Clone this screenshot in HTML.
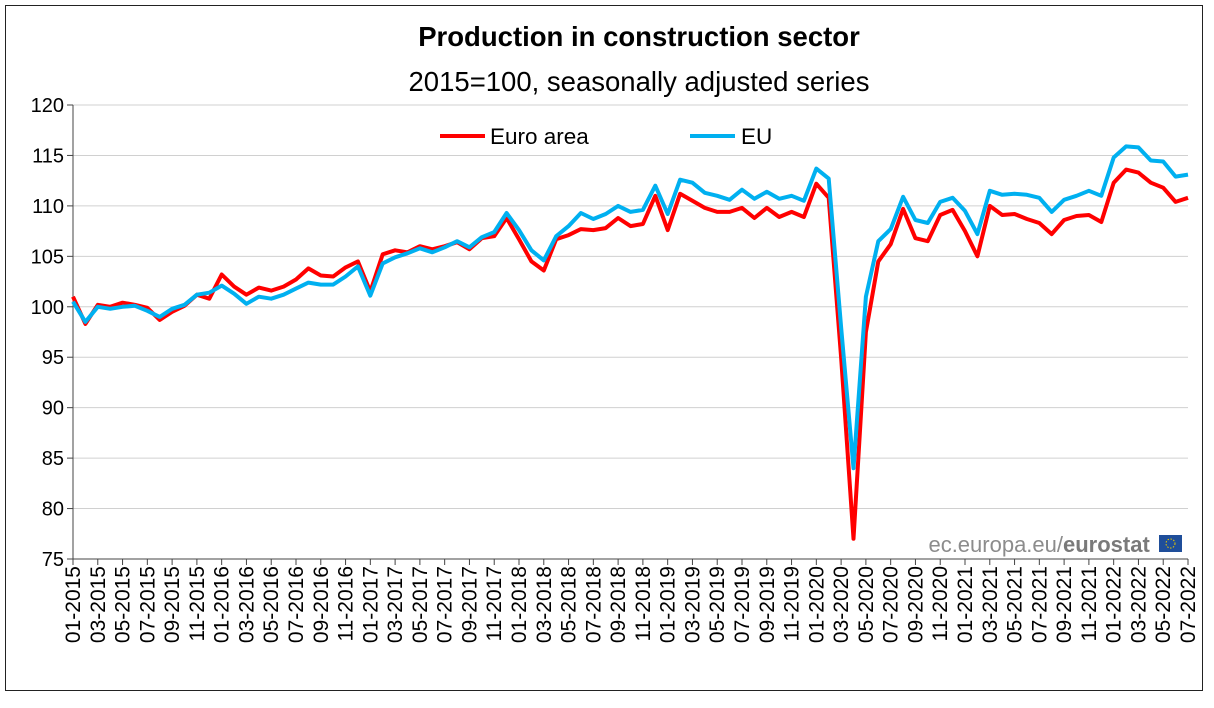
<!DOCTYPE html>
<html><head><meta charset="utf-8"><style>
html,body{margin:0;padding:0;background:#fff;}
body{width:1214px;height:703px;overflow:hidden;font-family:"Liberation Sans",Arial,sans-serif;}
</style></head><body>
<svg id="c" width="1214" height="703" xmlns="http://www.w3.org/2000/svg" font-family="Liberation Sans, Arial, sans-serif">
<rect x="5.5" y="5.5" width="1197" height="685" fill="#fff" stroke="#222" stroke-width="1"/>
<text x="639" y="46" text-anchor="middle" font-size="27.5" font-weight="bold">Production in construction sector</text>
<text x="639" y="91" text-anchor="middle" font-size="27.5">2015=100, seasonally adjusted series</text>
<g id="grid"></g>
<g id="xl"></g>
<line x1="440" y1="136" x2="485" y2="136" stroke="#ff0000" stroke-width="4"/>
<text x="490" y="144" font-size="22.5">Euro area</text>
<line x1="690" y1="136" x2="735" y2="136" stroke="#00b0f0" stroke-width="4"/>
<text x="741" y="144" font-size="22.5">EU</text>
<text x="1063" y="552" text-anchor="end" font-size="22" fill="#8c8c8c">ec.europa.eu/</text>
<text x="1063" y="552" font-size="22" fill="#7a7a7a" font-weight="bold">eurostat</text>
<rect x="1159" y="535" width="23" height="17" fill="#1f4e9a"/>
<circle cx="1170.5" cy="543.5" r="4.5" fill="none" stroke="#e6c700" stroke-width="1" stroke-dasharray="1.5 1.5"/>
<g id="ser"></g>
</svg>
<script>
var X0=73,DX=(1188-73)/90;
function Y(v){return 105+(120-v)*(559-105)/45;}
var g=document.getElementById('grid'),s='';
for(var v=75;v<=120;v+=5){var y=Y(v);
 if(v>75)s+='<line x1="73" x2="1188" y1="'+y+'" y2="'+y+'" stroke="#d0d0d0" stroke-width="1"/>';
 s+='<line x1="67" x2="73" y1="'+y+'" y2="'+y+'" stroke="#444"/>';
 s+='<text x="64" y="'+(y+7)+'" text-anchor="end" font-size="20">'+v+'</text>';}
s+='<line x1="73" x2="73" y1="105" y2="559" stroke="#444"/>';
s+='<line x1="73" x2="1188" y1="559" y2="559" stroke="#444"/>';
g.innerHTML=s;
var xl='';
for(var i=0;i<=90;i+=2){var x=X0+DX*i;var m=(i%12)+1,yr=2015+Math.floor(i/12);
 xl+='<line x1="'+x+'" x2="'+x+'" y1="559" y2="565" stroke="#444"/>';
 var lab=(m<10?'0':'')+m+'-'+yr;
 xl+='<text transform="translate('+(x+7)+',566) rotate(-90)" text-anchor="end" font-size="21">'+lab+'</text>';}
document.getElementById('xl').innerHTML=xl;
var ea=[101,98.3,100.2,100,100.4,100.2,99.9,98.7,99.5,100.1,101.2,100.8,103.2,102,101.2,101.9,101.6,102,102.7,103.8,103.1,103,103.9,104.5,101.5,105.2,105.6,105.4,106,105.7,106,106.4,105.7,106.8,107,108.8,106.7,104.5,103.6,106.7,107.1,107.7,107.6,107.8,108.8,108,108.2,111,107.6,111.2,110.5,109.8,109.4,109.4,109.8,108.8,109.8,108.9,109.4,108.9,112.2,110.8,95,77,97.5,104.5,106.2,109.7,106.8,106.5,109.1,109.6,107.5,105,110,109.1,109.2,108.7,108.3,107.2,108.6,109,109.1,108.4,112.3,113.6,113.3,112.3,111.8,110.4,110.8];
var eu=[100.5,98.5,100,99.8,100,100.1,99.6,99,99.8,100.2,101.2,101.4,102.1,101.3,100.3,101,100.8,101.2,101.8,102.4,102.2,102.2,103,104,101.1,104.3,104.9,105.3,105.8,105.4,105.9,106.5,105.9,106.9,107.4,109.3,107.6,105.6,104.6,107,108,109.3,108.7,109.2,110,109.4,109.6,112,109.2,112.6,112.3,111.3,111,110.6,111.6,110.7,111.4,110.7,111,110.5,113.7,112.7,98,84,101,106.5,107.7,110.9,108.6,108.3,110.4,110.8,109.5,107.2,111.5,111.1,111.2,111.1,110.8,109.4,110.6,111,111.5,111,114.8,115.9,115.8,114.5,114.4,112.9,113.1];
function pts(a){return a.map(function(v,i){return (X0+DX*i).toFixed(1)+','+Y(v).toFixed(1)}).join(' ');}
document.getElementById('ser').innerHTML='<polyline points="'+pts(ea)+'" fill="none" stroke="#ff0000" stroke-width="4" stroke-linejoin="round"/><polyline points="'+pts(eu)+'" fill="none" stroke="#00b0f0" stroke-width="4" stroke-linejoin="round"/>';
</script>
</body></html>
